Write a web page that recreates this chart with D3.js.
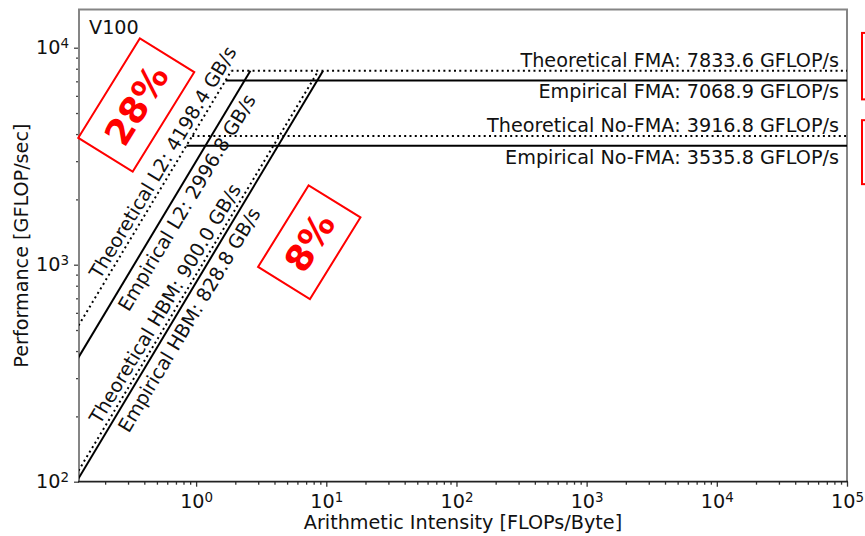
<!DOCTYPE html>
<html>
<head>
<meta charset="utf-8">
<script src="https://cdn.jsdelivr.net/npm/d3@7/dist/d3.min.js"></script>
<style>
  html, body { margin: 0; padding: 0; background: #fff; }
  svg { display: block; font-family: "DejaVu Sans", sans-serif; }
</style>
</head>
<body>
<svg id="chart" width="865" height="536"></svg>
<script>
// ---- roofline data ----
const deviceName = "V100";

// memory bandwidth ceilings (GB/s)
const memNames = ["Theoretical L2", "Empirical L2", "Theoretical HBM", "Empirical HBM"];
const memBandwidth = [4198.4, 2996.8, 900.0, 828.8];
const memKinds = ["theoretical", "empirical", "theoretical", "empirical"];

// compute ceilings (GFLOP/s)
const roofNames = ["Theoretical FMA", "Empirical FMA", "Theoretical No-FMA", "Empirical No-FMA"];
const roofPeaks = [7833.6, 7068.9, 3916.8, 3535.8];
const roofKinds = ["theoretical", "empirical", "theoretical", "empirical"];

// axes
const xDomain = [0.126, 1e5];
const yDomain = [100, 15000];
const xMajorTicks = [1, 10, 100, 1000, 10000, 100000];
const yMajorTicks = [100, 1000, 10000];

// efficiency call-outs
const efficiencyLabels = ["28%", "8%"];

// ---- drawing ----
const svg = d3.select("#chart");
const plot = { left: 79, right: 847, top: 9.5, bottom: 481.7 };
const fontSize = 19.2;
const ink = "#111";

const x = d3.scaleLog().domain(xDomain).range([plot.left, plot.right]);
const y = d3.scaleLog().domain(yDomain).range([plot.bottom, plot.top]);

svg.append("defs").append("clipPath").attr("id", "plot-clip")
  .append("rect")
  .attr("x", plot.left).attr("y", plot.top)
  .attr("width", plot.right - plot.left).attr("height", plot.bottom - plot.top);

// minor tick values for log axes
function minorTicks(domain) {
  const out = [];
  const lo = Math.floor(Math.log10(domain[0])), hi = Math.ceil(Math.log10(domain[1]));
  for (let e = lo; e <= hi; e++) {
    for (let m = 2; m <= 9; m++) {
      const v = m * Math.pow(10, e);
      if (v >= domain[0] && v <= domain[1]) out.push(v);
    }
  }
  return out;
}

function powerLabel(sel) {
  sel.each(function (d) {
    const t = d3.select(this);
    t.text(null);
    t.append("tspan").text("10");
    t.append("tspan").attr("dy", "-0.45em").attr("font-size", "0.7em")
      .text(Math.round(Math.log10(d)));
  });
}

// x axis: minor ticks, then labelled decades
const gx = svg.append("g").attr("transform", `translate(0,${plot.bottom})`);
const gxMinor = gx.append("g")
  .call(d3.axisBottom(x).tickValues(minorTicks(xDomain)).tickSize(3).tickFormat(""));
const gxMajor = gx.append("g")
  .call(d3.axisBottom(x).tickValues(xMajorTicks).tickSize(5).tickPadding(8));
gx.selectAll(".domain").remove();
gx.selectAll(".tick line").attr("stroke", "#333").attr("stroke-width", 1.3);
gxMinor.selectAll(".tick text").remove();
gxMajor.selectAll(".tick text").attr("font-size", fontSize).attr("font-family", "DejaVu Sans")
  .attr("fill", ink).call(powerLabel);

// y axis
const gy = svg.append("g").attr("transform", `translate(${plot.left},0)`);
const gyMinor = gy.append("g")
  .call(d3.axisLeft(y).tickValues(minorTicks(yDomain)).tickSize(3).tickFormat(""));
const gyMajor = gy.append("g")
  .call(d3.axisLeft(y).tickValues(yMajorTicks).tickSize(5).tickPadding(5));
gy.selectAll(".domain").remove();
gy.selectAll(".tick line").attr("stroke", "#444").attr("stroke-width", 1.3);
gyMinor.selectAll(".tick text").remove();
gyMajor.selectAll(".tick text").attr("font-size", fontSize).attr("font-family", "DejaVu Sans")
  .attr("fill", ink).call(powerLabel);

// frame
svg.append("path")
  .attr("d", `M${plot.left},${plot.bottom}V${plot.top}H${plot.right}V${plot.bottom}`)
  .attr("fill", "none").attr("stroke", "#858585").attr("stroke-width", 2);
svg.append("line")
  .attr("x1", plot.left - 1).attr("x2", plot.right + 1)
  .attr("y1", plot.bottom).attr("y2", plot.bottom)
  .attr("stroke", "#222").attr("stroke-width", 1.8);

// ceilings
const maxBW = d3.max(memBandwidth);
const maxPeak = d3.max(roofPeaks);
const line = d3.line().x(d => x(d[0])).y(d => y(d[1]));
const dash = k => (k === "theoretical" ? "2,3.3" : null);

const lines = svg.append("g").attr("clip-path", "url(#plot-clip)");

memBandwidth.forEach((bw, i) => {
  lines.append("path")
    .attr("d", line([[xDomain[0] * 0.9, bw * xDomain[0] * 0.9], [maxPeak / bw, maxPeak]]))
    .attr("fill", "none").attr("stroke", "#000").attr("stroke-width", 2)
    .attr("stroke-dasharray", dash(memKinds[i]));
});

roofPeaks.forEach((p, i) => {
  lines.append("path")
    .attr("d", line([[p / maxBW, p], [xDomain[1], p]]))
    .attr("fill", "none").attr("stroke", "#000").attr("stroke-width", 2)
    .attr("stroke-dasharray", dash(roofKinds[i]));
});

// compute ceiling labels (right aligned)
roofPeaks.forEach((p, i) => {
  const above = roofKinds[i] === "theoretical";
  svg.append("text")
    .attr("x", plot.right - 8)
    .attr("y", y(p) + (above ? -4 : 18))
    .attr("text-anchor", "end")
    .attr("font-size", fontSize).attr("fill", ink)
    .text(`${roofNames[i]}: ${p.toFixed(1)} GFLOP/s`);
});

// bandwidth ceiling labels, parallel to their lines
const slopeAngle = Math.atan2(y(10) - y(1), x(10) - x(1));   // radians, negative (up-right)
const nx = Math.sin(slopeAngle), ny = -Math.cos(slopeAngle); // unit normal toward upper-left
memBandwidth.forEach((bw, i) => {
  const theo = memKinds[i] === "theoretical";
  const xa = theo ? 0.197 : 0.224;
  const off = theo ? 5 : -20;
  const px = x(xa) + off * nx, py = y(bw * xa) + off * ny;
  svg.append("text")
    .attr("transform", `translate(${px},${py}) rotate(${slopeAngle * 180 / Math.PI})`)
    .attr("font-size", fontSize).attr("fill", ink)
    .text(`${memNames[i]}: ${bw.toFixed(1)} GB/s`);
});

// device name
svg.append("text")
  .attr("x", plot.left + 10).attr("y", plot.top + 24)
  .attr("font-size", fontSize).attr("fill", ink)
  .text(deviceName);

// efficiency call-outs: rotated boxes placed at data positions
const calloutAt = [
  { cx: 0.347, cy: 5446, w: 117, h: 64 },
  { cx: 7.40, cy: 1270, w: 96, h: 61 }
];
efficiencyLabels.forEach((lab, i) => {
  const c = calloutAt[i];
  const g = svg.append("g")
    .attr("transform", `translate(${x(c.cx)},${y(c.cy)}) rotate(${slopeAngle * 180 / Math.PI + 0.8})`);
  g.append("rect")
    .attr("x", -c.w / 2).attr("y", -c.h / 2).attr("width", c.w).attr("height", c.h)
    .attr("fill", "none").attr("stroke", "#ff0000").attr("stroke-width", 2);
  g.append("text")
    .attr("text-anchor", "middle").attr("dy", "0.36em")
    .attr("font-size", 36).attr("font-weight", "bold").attr("fill", "#ff0000")
    .text(lab);
});

// call-out frames beside the compute ceilings (run past the right edge)
const sideFrames = [[11700, 5780], [4634, 2351]];
sideFrames.forEach(f => {
  svg.append("rect")
    .attr("x", plot.right + 15).attr("y", y(f[0]))
    .attr("width", 60).attr("height", y(f[1]) - y(f[0]))
    .attr("fill", "none").attr("stroke", "#ff0000").attr("stroke-width", 2);
});

// axis titles
svg.append("text")
  .attr("x", (plot.left + plot.right) / 2).attr("y", 529)
  .attr("text-anchor", "middle").attr("font-size", fontSize).attr("fill", ink)
  .text("Arithmetic Intensity [FLOPs/Byte]");
svg.append("text")
  .attr("transform", `translate(28,${(plot.top + plot.bottom) / 2}) rotate(-90)`)
  .attr("text-anchor", "middle").attr("font-size", fontSize).attr("fill", ink)
  .text("Performance [GFLOP/sec]");
</script>
</body>
</html>
